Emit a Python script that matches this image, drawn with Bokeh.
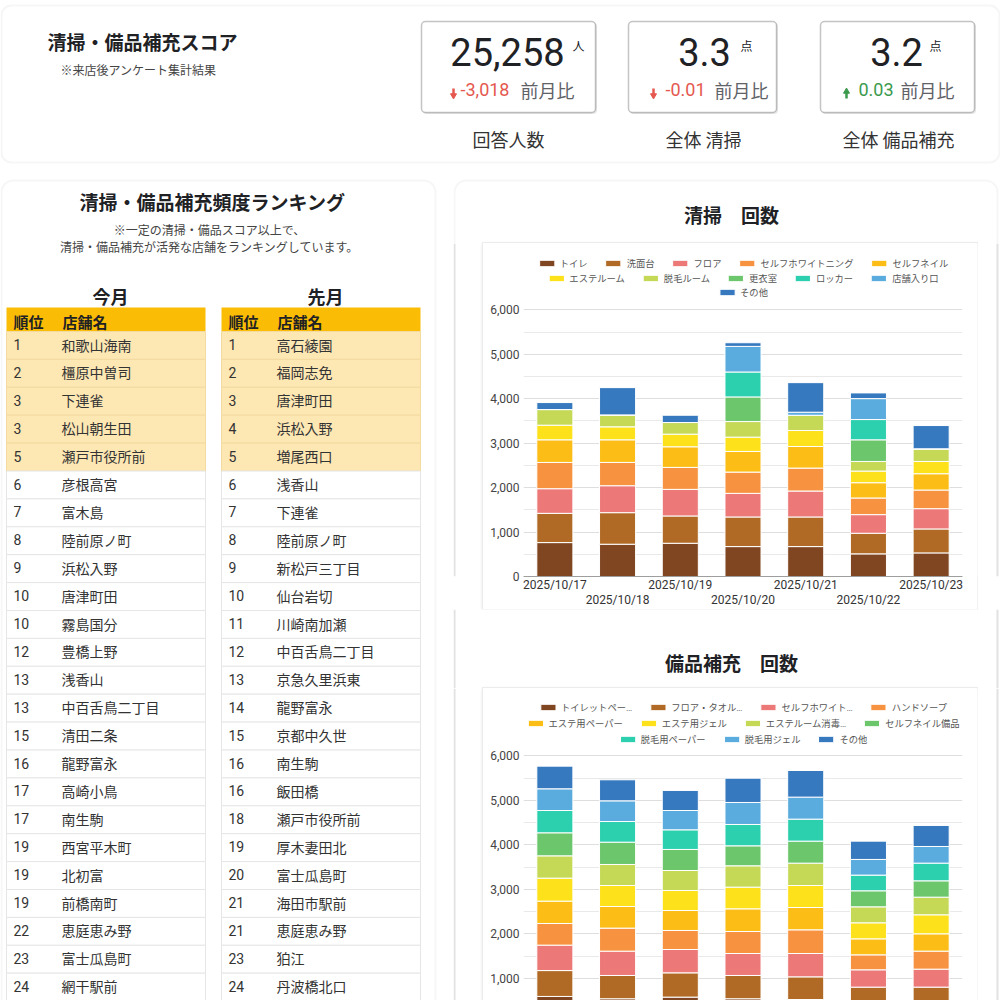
from bokeh.plotting import figure
from bokeh.models import (Range1d, BoxAnnotation, Legend, LegendItem, LinearAxis,
                          FixedTicker, NumeralTickFormatter, ColumnDataSource, Span)
from bokeh.layouts import row, column
from bokeh.core.properties import value
from bokeh.embed import file_html
from bokeh.resources import INLINE

JP = "'Noto Sans CJK JP', 'Noto Sans', sans-serif"
NUM = "Roboto, 'Noto Sans CJK JP', sans-serif"

# ---------------- data ----------------
header_title = "清掃・備品補充スコア"
header_note = "※来店後アンケート集計結果"
kpi_names = ["回答人数", "全体 清掃", "全体 備品補充"]
kpi_values = ["25,258", "3.3", "3.2"]
kpi_units = ["人", "点", "点"]
kpi_deltas = ["-3,018", "-0.01", "0.03"]
kpi_compare = "前月比"

rank_title = "清掃・備品補充頻度ランキング"
rank_notes = ["※一定の清掃・備品スコア以上で、", "清掃・備品補充が活発な店舗をランキングしています。"]
table_headers = ["順位", "店舗名"]
this_month_title = "今月"
this_month_rank = ["1", "2", "3", "3", "5", "6", "7", "8", "9", "10", "10", "12", "13", "13",
                   "15", "16", "17", "17", "19", "19", "19", "22", "23", "24"]
this_month_store = ["和歌山海南", "橿原中曽司", "下連雀", "松山朝生田", "瀬戸市役所前", "彦根高宮",
                    "富木島", "陸前原ノ町", "浜松入野", "唐津町田", "霧島国分", "豊橋上野", "浅香山",
                    "中百舌鳥二丁目", "清田二条", "龍野富永", "高崎小鳥", "南生駒", "西宮平木町",
                    "北初富", "前橋南町", "恵庭恵み野", "富士瓜島町", "網干駅前"]
last_month_title = "先月"
last_month_rank = ["1", "2", "3", "4", "5", "6", "7", "8", "9", "10", "11", "12", "13", "14",
                   "15", "16", "16", "18", "19", "20", "21", "21", "23", "24"]
last_month_store = ["高石綾園", "福岡志免", "唐津町田", "浜松入野", "増尾西口", "浅香山", "下連雀",
                    "陸前原ノ町", "新松戸三丁目", "仙台岩切", "川崎南加瀬", "中百舌鳥二丁目",
                    "京急久里浜東", "龍野富永", "京都中久世", "南生駒", "飯田橋", "瀬戸市役所前",
                    "厚木妻田北", "富士瓜島町", "海田市駅前", "恵庭恵み野", "狛江", "丹波橋北口"]

dates = ["2025/10/17", "2025/10/18", "2025/10/19", "2025/10/20", "2025/10/21", "2025/10/22", "2025/10/23"]

clean_title = "清掃　回数"
clean_series = ["トイレ", "洗面台", "フロア", "セルフホワイトニング", "セルフネイル", "エステルーム",
                "脱毛ルーム", "更衣室", "ロッカー", "店舗入り口", "その他"]
clean_toilet = [763, 726, 748, 673, 673, 509, 531]
clean_sink = [658, 710, 614, 666, 666, 464, 539]
clean_floor = [554, 606, 598, 531, 584, 419, 456]
clean_whitening = [591, 524, 494, 479, 516, 374, 419]
clean_nail = [509, 509, 464, 464, 486, 344, 367]
clean_esthe = [329, 292, 284, 322, 359, 262, 276]
clean_datsumo = [352, 269, 262, 351, 344, 216, 285]
clean_locker_room = [0, 0, 0, 554, 0, 487, 0]
clean_locker = [0, 0, 0, 561, 0, 456, 0]
clean_entrance = [0, 0, 0, 576, 68, 471, 0]
clean_other = [157, 613, 164, 82, 665, 128, 523]

supply_title = "備品補充　回数"
supply_series = ["トイレットペー…", "フロア・タオル…", "セルフホワイト…", "ハンドソープ",
                 "エステ用ペーパー", "エステ用ジェル", "エステルーム消毒…", "セルフネイル備品",
                 "脱毛用ペーパー", "脱毛用ジェル", "その他"]
sup_toilet_paper = [597, 545, 582, 545, 528, 400, 400]
sup_floor_towel = [581, 523, 545, 523, 509, 406, 406]
sup_whitening = [571, 546, 524, 493, 524, 389, 404]
sup_hand_soap = [486, 517, 427, 494, 532, 336, 404]
sup_esthe_paper = [502, 486, 449, 509, 501, 359, 389]
sup_esthe_gel = [516, 471, 449, 487, 494, 360, 427]
sup_esthe_disinfect = [501, 472, 449, 479, 502, 359, 396]
sup_nail = [517, 501, 472, 449, 494, 360, 367]
sup_datsumo_paper = [501, 464, 441, 479, 494, 352, 397]
sup_datsumo_gel = [487, 464, 434, 494, 494, 352, 374]
sup_other = [509, 472, 450, 546, 598, 411, 472]

palette = ["#804622", "#b06a26", "#ec7878", "#f79340", "#fbbd16", "#fde11b",
           "#c5d956", "#6cc66b", "#2ccfae", "#5aacde", "#3679be"]

PANEL_LINE = "#e2e2e2"
HDR_FILL = "#fbbc05"
HILITE = "#fde7b3"


# ---------------- helpers ----------------
def canvas(w, h):
    p = figure(width=w, height=h, x_range=Range1d(0, w), y_range=Range1d(h, 0),
               min_border=0, toolbar_location=None, x_axis_location=None, y_axis_location=None,
               output_backend="svg", outline_line_color=None,
               background_fill_color="white", border_fill_color="white")
    p.grid.visible = False
    return p


def put(p, x, y, s, size, color="#333333", bold=False, align="left", font=JP, baseline="middle"):
    p.text(x=[x], y=[y], text=[s], text_font=value(font), text_font_size=f"{size}px",
           text_color=color, text_font_style="bold" if bold else "normal",
           text_align=align, text_baseline=baseline)


def panel_box(p, l, r, t, b, radius=12, line=PANEL_LINE, width=2, fill="white"):
    p.add_layout(BoxAnnotation(left=l, right=r, top=t, bottom=b, fill_color=fill, fill_alpha=1,
                               line_color=line, line_width=width, border_radius=radius,
                               level="underlay"))


# ---------------- header ----------------
hdr = canvas(1000, 170)
panel_box(hdr, 1, 999, 5, 162, radius=10)
put(hdr, 47, 41, header_title, 19, "#202124", bold=True)
put(hdr, 60, 69, header_note, 12, "#444444")

box_l = [421, 628, 820]
box_r = [595, 776, 974]
num_cx = [507, 704, 896]
unit_x = [572, 740, 929]
arrow_x = [453, 653, 846]
delta_x = [460, 665, 858]
cmp_x = [520, 714, 900]
label_cx = [508, 703, 898]
for i in range(len(kpi_values)):
    hdr.add_layout(BoxAnnotation(left=box_l[i] + 1, right=box_r[i] + 1.5, top=22, bottom=113.5,
                                 fill_color="#d6d6d6", fill_alpha=0.6, line_color=None,
                                 border_radius=4, level="underlay"))
    hdr.add_layout(BoxAnnotation(left=box_l[i], right=box_r[i], top=21, bottom=112,
                                 fill_color="white", fill_alpha=1, line_color="#3a3a3a",
                                 line_width=1.5, border_radius=4, level="underlay"))
    put(hdr, num_cx[i], 51, kpi_values[i], 38, "#202124", align="center", font=NUM)
    put(hdr, unit_x[i], 45, kpi_units[i], 12, "#202124")
    up = not kpi_deltas[i].startswith("-")
    col = "#3b9a4d" if up else "#e5584f"
    ax, ay = arrow_x[i], 93
    if up:
        hdr.segment(x0=[ax], y0=[ay - 1], x1=[ax], y1=[ay + 5], line_color=col, line_width=2.5)
        hdr.scatter(x=[ax], y=[ay - 2], marker="triangle", size=6, fill_color=col, line_color=col)
    else:
        hdr.segment(x0=[ax], y0=[ay - 5], x1=[ax], y1=[ay + 1], line_color=col, line_width=2.5)
        hdr.scatter(x=[ax], y=[ay + 2], marker="inverted_triangle", size=6, fill_color=col, line_color=col)
    put(hdr, delta_x[i], 89, kpi_deltas[i], 18, col, font=NUM)
    put(hdr, cmp_x[i], 89, kpi_compare, 18, "#5f6368")
    put(hdr, label_cx[i], 138, kpi_names[i], 18, "#333333", align="center")

# ---------------- left ranking panel ----------------
left = canvas(453, 830)
panel_box(left, 1, 435, 10, 3000)
put(left, 212, 31, rank_title, 19, "#202124", bold=True, align="center")
put(left, 209, 59, rank_notes[0], 12, "#444444", align="center")
put(left, 209, 76, rank_notes[1], 12, "#444444", align="center")

ROW_H = 27.9
HEAD_T, HEAD_B = 137, 161


def draw_table(p, x0, x1, title, title_cx, ranks, stores):
    put(p, title_cx, 125, title, 18, "#202124", bold=True, align="center")
    p.quad(left=[x0], right=[x1], top=[HEAD_T], bottom=[HEAD_B], fill_color=HDR_FILL, line_color=None)
    put(p, x0 + 7, 151, table_headers[0], 15, "#202124", bold=True)
    put(p, x0 + 56, 151, table_headers[1], 15, "#202124", bold=True)
    n = len(ranks)
    tops = [HEAD_B + ROW_H * i for i in range(n)]
    src = ColumnDataSource(dict(
        top=tops, bottom=[t + ROW_H for t in tops], ty=[t + 13 for t in tops],
        fill=[HILITE if int(r) <= 5 else "white" for r in ranks],
        line=["#f3dba0" if int(r) <= 5 else "#e6e6e6" for r in ranks],
        rank=ranks, store=stores))
    p.quad(left=x0, right=x1, top="top", bottom="bottom", fill_color="fill", line_color="line",
           line_width=1, source=src)
    p.text(x=x0 + 7, y="ty", text="rank", source=src, text_font=value(NUM), text_font_size="14px",
           text_color="#333333", text_baseline="middle")
    p.text(x=x0 + 55, y="ty", text="store", source=src, text_font=value(JP), text_font_size="14px",
           text_color="#333333", text_baseline="middle")


draw_table(left, 6, 205, this_month_title, 110, this_month_rank, this_month_store)
draw_table(left, 221, 420, last_month_title, 325, last_month_rank, last_month_store)

# ---------------- right panel pieces ----------------
RW = 547
rtop = canvas(RW, 73)
panel_box(rtop, 1, 544, 10, 600)
put(rtop, 278, 44, clean_title, 19, "#202124", bold=True, align="center")

rmid = canvas(RW, 79)
rmid.add_layout(Span(location=1, dimension="height", line_color=PANEL_LINE, line_width=2))
rmid.add_layout(Span(location=544, dimension="height", line_color=PANEL_LINE, line_width=2))
put(rmid, 278, 53, supply_title, 19, "#202124", bold=True, align="center")


def side(w, h, x):
    s = canvas(w, h)
    s.add_layout(Span(location=x, dimension="height", line_color=PANEL_LINE, line_width=2))
    return s


CHART_STYLE = {"box-shadow": "0 0 0 1px #ececec, 0 1px 3px rgba(0,0,0,0.22)"}
x_pos = list(range(len(dates)))
y_ticks = list(range(0, 6001, 1000))
y_minor = list(range(500, 6000, 1000))


def bar_chart(h, y_start, y_end, series, cols, rows, margins, show_x):
    src = ColumnDataSource(dict(x=x_pos, **{name: vals for name, vals in zip(series, cols)}))
    p = figure(width=494, height=h, x_range=Range1d(-0.5, len(dates) - 0.5),
               y_range=Range1d(y_start, y_end), toolbar_location=None, output_backend="svg",
               x_axis_location="below" if show_x else None,
               min_border_left=40, min_border_right=15, min_border_top=0,
               min_border_bottom=32 if show_x else 0, outline_line_color=None,
               background_fill_color="white", border_fill_color="white", styles=CHART_STYLE)
    rends = p.vbar_stack(series, x="x", width=0.575, color=palette, source=src,
                         line_color="white", line_width=1)
    p.xgrid.visible = False
    p.ygrid.grid_line_color = "#dedede"
    p.ygrid.minor_grid_line_color = "#e9e9e9"
    ya = p.yaxis[0]
    ya.ticker = FixedTicker(ticks=y_ticks, minor_ticks=y_minor)
    ya.formatter = NumeralTickFormatter(format="0,0")
    ya.axis_line_color = None
    ya.major_tick_line_color = None
    ya.minor_tick_line_color = None
    ya.major_tick_out = 0
    ya.major_tick_in = 0
    ya.minor_tick_out = 0
    ya.minor_tick_in = 0
    ya.major_label_standoff = 4
    ya.major_label_text_font = NUM
    ya.major_label_text_font_size = "12px"
    ya.major_label_text_color = "#444444"
    if show_x:
        labels = {i: d for i, d in zip(x_pos, dates)}
        ax1 = p.xaxis[0]
        ax1.ticker = FixedTicker(ticks=x_pos[0::2])
        ax2 = LinearAxis(ticker=FixedTicker(ticks=x_pos[1::2]))
        p.add_layout(ax2, "below")
        for ax, so in ((ax1, 1), (ax2, -2)):
            ax.major_label_overrides = labels
            ax.major_tick_line_color = None
            ax.minor_tick_line_color = None
            ax.major_tick_out = 0
            ax.major_tick_in = 0
            ax.minor_tick_out = 0
            ax.minor_tick_in = 0
            ax.major_label_standoff = so
            ax.major_label_text_font = NUM
            ax.major_label_text_font_size = "12px"
            ax.major_label_text_color = "#333333"
        ax1.axis_line_color = "#9e9e9e"
        ax2.axis_line_color = None
    for (a, b), m in zip(rows, margins):
        leg = Legend(items=[LegendItem(label=series[k], renderers=[rends[k]]) for k in range(a, b)],
                     orientation="horizontal", location="top_center", margin=m, padding=0,
                     spacing=16, label_standoff=4, glyph_width=19, glyph_height=8,
                     label_height=15, label_text_font_size="9.3px", label_text_color="#555555",
                     label_text_font=NUM, border_line_color=None, background_fill_alpha=0)
        p.add_layout(leg)
    return p


C1_H = 366
c1_frame_h = C1_H - 33
c1_top_pad = 66.3
c1_end = 6000 * c1_frame_h / (c1_frame_h - c1_top_pad)
c1 = bar_chart(C1_H, 0, c1_end, clean_series,
               [clean_toilet, clean_sink, clean_floor, clean_whitening, clean_nail, clean_esthe,
                clean_datsumo, clean_locker_room, clean_locker, clean_entrance, clean_other],
               [(0, 5), (5, 10), (10, 11)], [12, 27, 41], True)

C2_H = 312
c2 = bar_chart(C2_H, 506, 7511, supply_series,
               [sup_toilet_paper, sup_floor_towel, sup_whitening, sup_hand_soap, sup_esthe_paper,
                sup_esthe_gel, sup_esthe_disinfect, sup_nail, sup_datsumo_paper, sup_datsumo_gel,
                sup_other],
               [(0, 4), (4, 8), (8, 11)], [11, 27, 43], False)

right = column(rtop,
               row(side(30, C1_H, 1), c1, side(23, C1_H, 20)),
               rmid,
               row(side(30, C2_H, 1), c2, side(23, C2_H, 20)))
page = column(hdr, row(left, right))

open("out.html", "w", encoding="utf-8").write(file_html(page, INLINE, "清掃・備品補充スコア"))
